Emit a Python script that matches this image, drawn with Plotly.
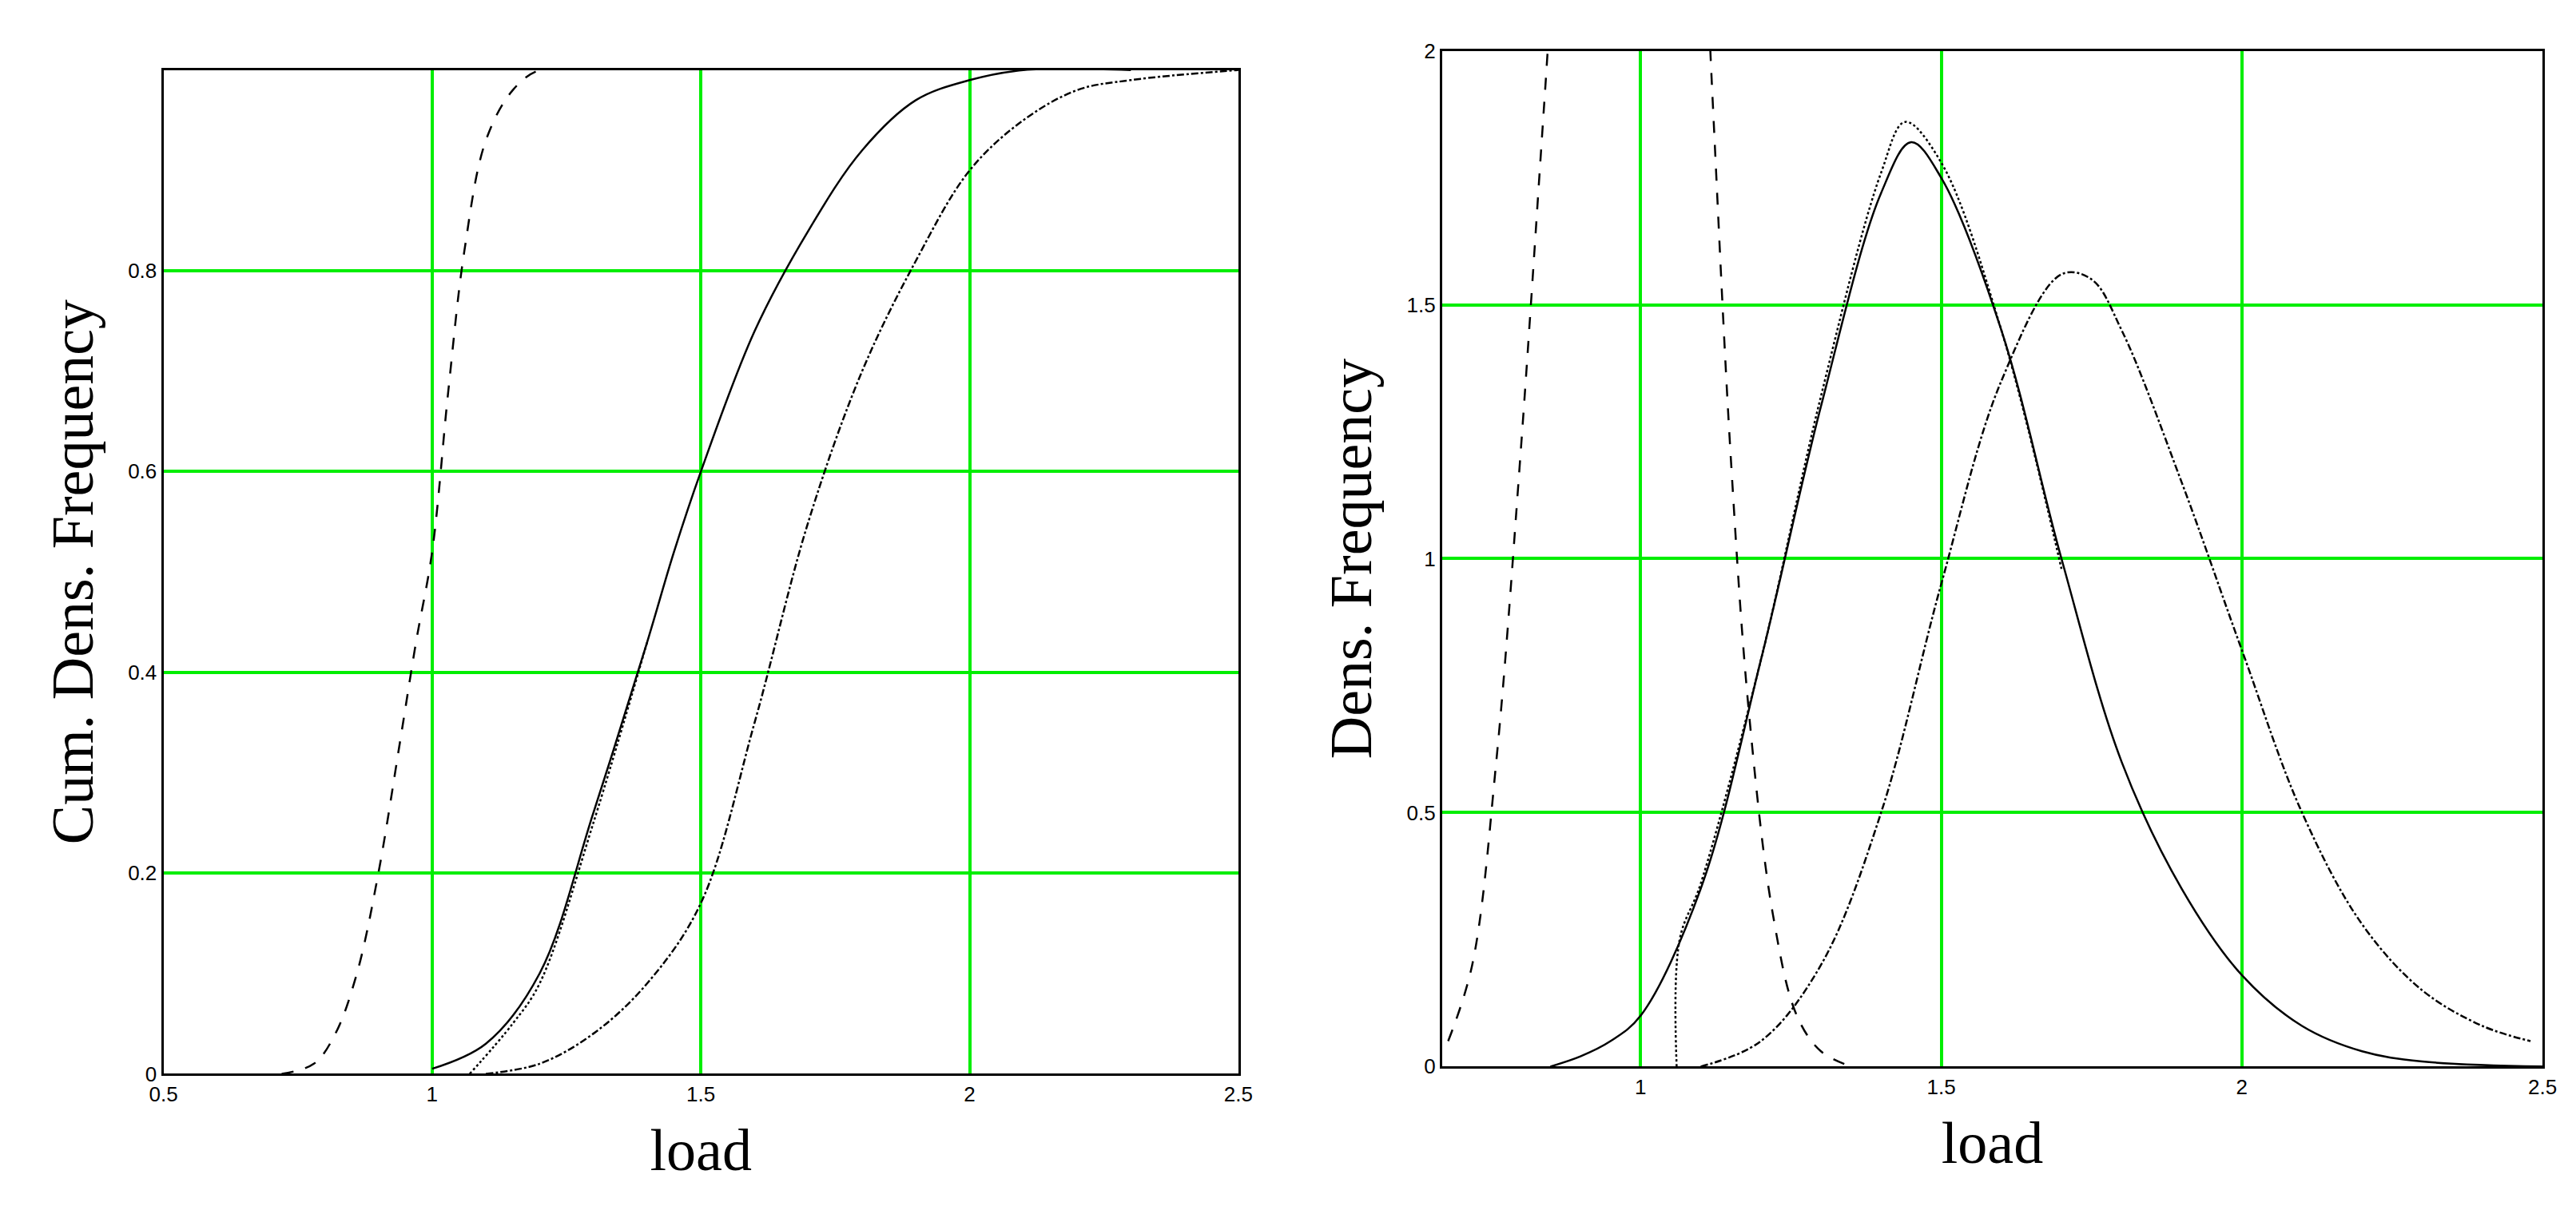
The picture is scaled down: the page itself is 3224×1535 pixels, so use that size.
import plotly.graph_objects as go

# Left panel: cumulative density curves
cd_dash_x = [0.72, 0.78, 0.82, 0.86, 0.90, 0.94, 0.97, 1.00, 1.03, 1.06, 1.10, 1.15, 1.20, 1.30]
cd_dash_y = [0.0, 0.01, 0.04, 0.10, 0.20, 0.33, 0.43, 0.52, 0.68, 0.82, 0.93, 0.98, 1.0, 1.0]
cd_solid_x = [1.0, 1.1, 1.2, 1.3, 1.4, 1.45, 1.5, 1.6, 1.7, 1.8, 1.9, 2.0, 2.1, 2.3]
cd_solid_y = [0.005, 0.03, 0.10, 0.26, 0.43, 0.52, 0.60, 0.74, 0.84, 0.92, 0.97, 0.99, 1.0, 1.0]
cd_dot_x = [1.07, 1.15, 1.2, 1.3, 1.4]
cd_dot_y = [0.0, 0.05, 0.09, 0.25, 0.43]
cd_dd_x = [1.1, 1.2, 1.3, 1.4, 1.5, 1.6, 1.7, 1.8, 1.9, 2.0, 2.1, 2.2, 2.3, 2.5]
cd_dd_y = [0.0, 0.01, 0.04, 0.09, 0.17, 0.35, 0.55, 0.70, 0.81, 0.90, 0.95, 0.98, 0.99, 1.0]

# Right panel: density curves
d_dash_x = [0.68, 0.72, 0.76, 0.80, 0.84, 0.88, 0.95, 1.0, 1.05, 1.10, 1.12, 1.15, 1.18, 1.22, 1.26, 1.30, 1.35]
d_dash_y = [0.05, 0.2, 0.6, 1.2, 1.9, 2.6, 3.4, 3.6, 3.3, 2.4, 1.9, 1.2, 0.7, 0.3, 0.1, 0.03, 0.0]
d_solid_x = [0.85, 0.9, 0.95, 1.0, 1.1, 1.2, 1.3, 1.4, 1.45, 1.5, 1.6, 1.7, 1.8, 1.9, 2.0, 2.1, 2.2, 2.3, 2.5]
d_solid_y = [0.0, 0.02, 0.05, 0.1, 0.35, 0.8, 1.3, 1.72, 1.82, 1.75, 1.45, 1.0, 0.6, 0.35, 0.18, 0.08, 0.03, 0.01, 0.0]
d_dot_x = [1.06, 1.065, 1.1, 1.2, 1.3, 1.4, 1.44, 1.5, 1.6, 1.7]
d_dot_y = [0.0, 0.25, 0.36, 0.8, 1.32, 1.76, 1.86, 1.78, 1.45, 0.98]
d_dd_x = [1.1, 1.2, 1.3, 1.4, 1.5, 1.6, 1.7, 1.75, 1.8, 1.9, 2.0, 2.1, 2.2, 2.3, 2.4, 2.48]
d_dd_y = [0.0, 0.05, 0.2, 0.5, 0.95, 1.35, 1.56, 1.55, 1.45, 1.15, 0.82, 0.5, 0.28, 0.15, 0.08, 0.05]

fig = go.Figure()
def add(x, y, dash, xa, ya):
    fig.add_trace(go.Scatter(x=x, y=y, mode="lines", line=dict(color="black", width=2.5, dash=dash, shape="spline"),
                             xaxis=xa, yaxis=ya, showlegend=False, cliponaxis=True))

add(cd_dash_x, cd_dash_y, "longdash", "x", "y")
add(cd_solid_x, cd_solid_y, "solid", "x", "y")
add(cd_dot_x, cd_dot_y, "dot", "x", "y")
add(cd_dd_x, cd_dd_y, "dashdot", "x", "y")
add(d_dash_x, d_dash_y, "longdash", "x2", "y2")
add(d_solid_x, d_solid_y, "solid", "x2", "y2")
add(d_dot_x, d_dot_y, "dot", "x2", "y2")
add(d_dd_x, d_dd_y, "dashdot", "x2", "y2")

titlefont = dict(family="Liberation Serif", size=74, color="black")
tickfont = dict(family="Liberation Sans", size=26, color="black")
common = dict(showline=True, linecolor="black", linewidth=3, mirror=True, showgrid=True,
              gridcolor="#00ee00", gridwidth=4, zeroline=False, tickfont=tickfont, ticks="")

fig.update_layout(
    width=3224, height=1535, paper_bgcolor="white", plot_bgcolor="white",
    margin=dict(l=0, r=0, t=0, b=0),
    xaxis=dict(domain=[0.056, 0.478], range=[0.5, 2.5], tickvals=[0.5, 1, 1.5, 2, 2.5],
               ticktext=["0.5", "1", "1.5", "2", "2.5"], anchor="y",
               title=dict(text="load", font=titlefont, standoff=30), **common),
    yaxis=dict(domain=[0.122, 0.957], range=[0, 1], tickvals=[0, 0.2, 0.4, 0.6, 0.8], anchor="x",
               title=dict(text="Cum. Dens. Frequency", font=titlefont, standoff=20), **common),
    xaxis2=dict(domain=[0.558, 0.99], range=[0.67, 2.5], tickvals=[1, 1.5, 2, 2.5],
                ticktext=["1", "1.5", "2", "2.5"], anchor="y2",
                title=dict(text="load", font=titlefont, standoff=30), **common),
    yaxis2=dict(domain=[0.128, 0.973], range=[0, 2], tickvals=[0, 0.5, 1, 1.5, 2], anchor="x2",
                ticktext=["0", "0.5", "1", "1.5", "2"],
                title=dict(text="Dens. Frequency", font=titlefont, standoff=20), **common),
)
fig.write_html("out.html")
